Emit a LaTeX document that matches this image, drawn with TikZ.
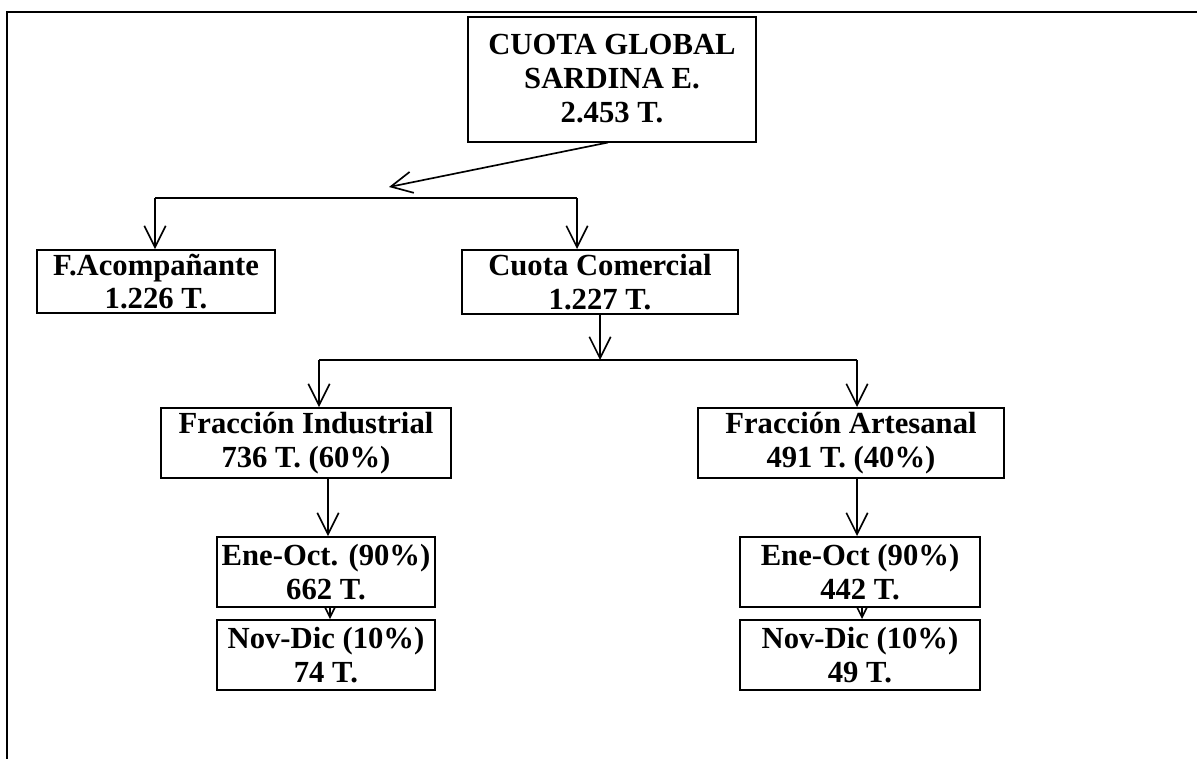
\documentclass[tikz,border=0pt]{standalone}
\usepackage{fontspec}
\setmainfont{Liberation Serif}
\usetikzlibrary{arrows.meta,backgrounds,calc}
\begin{document}
\begin{tikzpicture}[x=0.75pt,y=-0.75pt,
  box/.style={draw, line width=1.5pt, fill=white, align=center, inner sep=0pt,
    font=\bfseries\fontsize{23}{25}\selectfont},
  conn/.style={line width=1.25pt},
  arr/.style={conn, -{Straight Barb[length=16pt,width=16pt,line width=1.25pt]}},
  frame/.style={line width=1.8pt}]
\useasboundingbox (0,0) rectangle (1197,758);
\draw[frame] (7,760) -- (7,12) -- (1199,12);

\node[box, font=\bfseries\fontsize{23}{25.5}\selectfont, minimum width=288*0.75pt, minimum height=125*0.75pt] (top) at (612,79) {CUOTA GLOBAL\\SARDINA E.\\2.453 T.};
\node[box, minimum width=238*0.75pt, minimum height=63*0.75pt] (facomp) at (156,281.5) {F.Acompañante\\1.226 T.};
\node[box, minimum width=276*0.75pt, minimum height=64*0.75pt] (ccom) at (600,282) {Cuota Comercial\\1.227 T.};
\node[box, minimum width=290*0.75pt, minimum height=70*0.75pt] (find) at (306,443) {Fracción Industrial\\736 T. (60\%)};
\node[box, minimum width=306*0.75pt, minimum height=70*0.75pt] (fart) at (851,443) {Fracción Artesanal\\491 T. (40\%)};
\node[box, minimum width=218*0.75pt, minimum height=70*0.75pt] (ene1) at (326,572) {Ene-Oct. (90\%)\\662 T.};
\node[box, minimum width=218*0.75pt, minimum height=70*0.75pt] (nov1) at (326,655) {Nov-Dic (10\%)\\74 T.};
\node[box, minimum width=240*0.75pt, minimum height=70*0.75pt] (ene2) at (860,572) {Ene-Oct (90\%)\\442 T.};
\node[box, minimum width=240*0.75pt, minimum height=70*0.75pt] (nov2) at (860,655) {Nov-Dic (10\%)\\49 T.};

\coordinate (j0) at (389,187);
\coordinate (h1l) at (155,198);
\coordinate (h1r) at (577,198);
\coordinate (h2l) at (319,360);
\coordinate (h2r) at (857,360);
\coordinate (x1) at (328,0);
\coordinate (x2) at (857,0);
\coordinate (x3) at (330,0);
\coordinate (x4) at (862,0);

\draw[arr] ([xshift=-4*0.75pt]top.south) -- (j0);
\draw[conn] (h1l) -- (h1r);
\draw[arr] (h1l) -- (h1l |- facomp.north);
\draw[arr] (h1r) -- (h1r |- ccom.north);
\draw[arr] (ccom.south) -- (ccom.south |- h2l);
\draw[conn] (h2l) -- (h2r);
\draw[arr] (h2l) -- (h2l |- find.north);
\draw[arr] (h2r) -- (h2r |- fart.north);
\draw[arr] (find.south -| x1) -- (ene1.north -| x1);
\draw[arr] (fart.south -| x2) -- (ene2.north -| x2);
\begin{scope}[on background layer]
\draw[arr] (ene1.south -| x3) -- (nov1.north -| x3);
\draw[arr] (ene2.south -| x4) -- (nov2.north -| x4);
\end{scope}
\end{tikzpicture}
\end{document}
